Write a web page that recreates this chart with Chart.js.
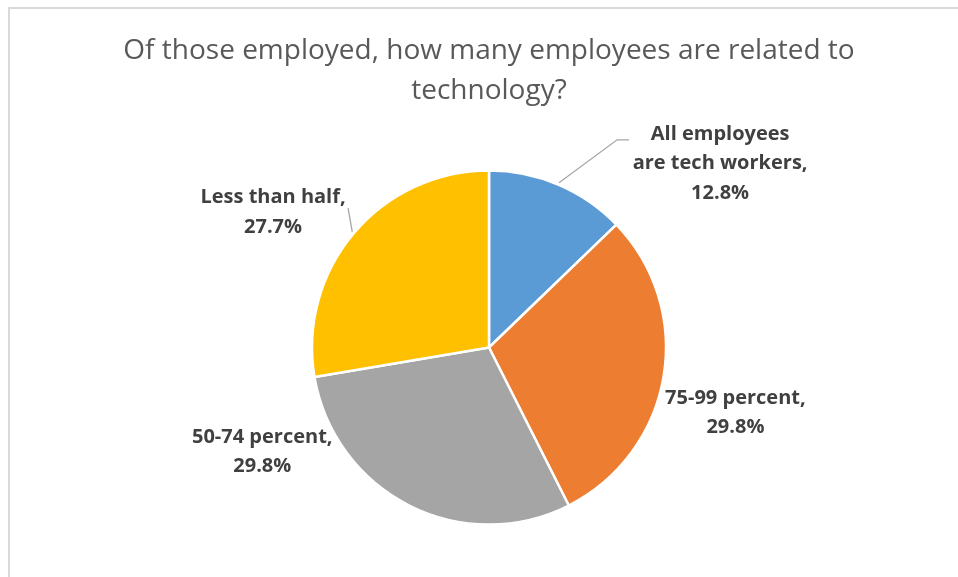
<!DOCTYPE html>
<html>
<head>
<meta charset="utf-8">
<script src="https://cdn.jsdelivr.net/npm/chart.js@4"></script>
<style>
  html, body { margin: 0; padding: 0; background: #fff; overflow: hidden; }
  #frame { position: absolute; left: 8px; top: 7px; width: 956px; height: 600px; border: 2px solid #d9d9d9; }
  #pie { display: block; }
</style>
</head>
<body>
<div id="frame"><canvas id="pie" width="956" height="600"></canvas></div>
<script>
const titleLines = ['Of those employed, how many employees are related to', 'technology?'];
const categoryLines = [
  ['All employees', 'are tech workers'],
  ['75-99 percent'],
  ['50-74 percent'],
  ['Less than half'],
];
const shares = [12.8, 29.8, 29.8, 27.7];
const sliceColors = ['#5b9bd5', '#ed7d31', '#a5a5a5', '#ffc000'];

// where each slice's label sits: angle shift from the slice middle (deg),
// distance in pie radii, and optional leader line points relative to the label centre
const labelPlacement = [
  { shift: 28.5, dist: 1.668, leader: [[-103, -24], [-91, -24]] },
  { shift: 5.2, dist: 1.44 },
  { shift: 38.5, dist: 1.41 },
  { shift: -8.1, dist: 1.44, leader: [[75, -4]] },
];

const sliceLabels = {
  id: 'sliceLabels',
  afterDatasetsDraw(chart, args, opts) {
    const ctx = chart.ctx;
    const meta = chart.getDatasetMeta(0);
    ctx.save();
    ctx.font = opts.font;
    ctx.textAlign = 'center';
    ctx.textBaseline = 'middle';
    meta.data.forEach((arc, i) => {
      const { x, y, startAngle, endAngle, outerRadius } =
        arc.getProps(['x', 'y', 'startAngle', 'endAngle', 'outerRadius'], true);
      const mid = (startAngle + endAngle) / 2;
      const place = labelPlacement[i];
      const a = mid + place.shift * Math.PI / 180;
      const cx = x + Math.cos(a) * outerRadius * place.dist;
      const cy = y + Math.sin(a) * outerRadius * place.dist;

      if (place.leader) {
        ctx.strokeStyle = opts.leaderColor;
        ctx.lineWidth = 1.3;
        ctx.beginPath();
        ctx.moveTo(x + Math.cos(mid) * (outerRadius + 2), y + Math.sin(mid) * (outerRadius + 2));
        place.leader.forEach(([dx, dy]) => ctx.lineTo(cx + dx, cy + dy));
        ctx.stroke();
      }

      const lines = [...categoryLines[i]];
      lines[lines.length - 1] += ',';
      lines.push(shares[i].toFixed(1) + '%');
      const top = cy - (lines.length - 1) * opts.lineHeight / 2;
      ctx.fillStyle = opts.color;
      lines.forEach((t, k) => ctx.fillText(t, cx, top + k * opts.lineHeight));
    });
    ctx.restore();
  }
};

Chart.defaults.font.family = '"Open Sans", "Liberation Sans", sans-serif';

new Chart(document.getElementById('pie'), {
  type: 'pie',
  plugins: [sliceLabels],
  data: {
    labels: categoryLines.map(l => l.join(' ')),
    datasets: [{
      data: shares,
      backgroundColor: sliceColors,
      borderColor: '#ffffff',
      borderWidth: 2.5,
      radius: 177,
    }],
  },
  options: {
    responsive: false,
    animation: false,
    devicePixelRatio: 1,
    layout: { padding: { left: 2, bottom: 25 } },
    plugins: {
      legend: { display: false },
      tooltip: { enabled: false },
      title: {
        display: true,
        text: titleLines,
        color: '#595959',
        font: { size: 28, weight: 'normal', lineHeight: '40px' },
        padding: { top: 22, bottom: 0 },
      },
      sliceLabels: {
        font: 'bold 20px "Open Sans", "Liberation Sans", sans-serif',
        color: '#404040',
        lineHeight: 29.5,
        leaderColor: '#a6a6a6',
      },
    },
  },
});
</script>
</body>
</html>
